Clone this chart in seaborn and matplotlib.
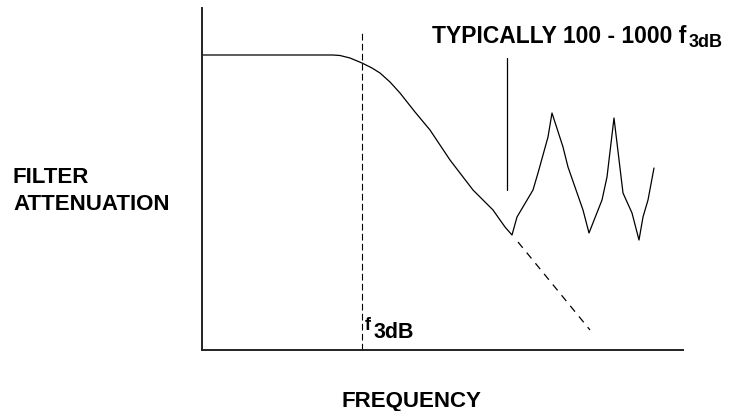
import pandas as pd
import matplotlib
matplotlib.use('Agg')
import matplotlib.pyplot as plt
import seaborn as sns

# response curve (arbitrary units)
freq = [0, 131, 138, 148, 160, 170, 178, 188, 198, 213, 228, 248, 271, 291,
        303, 310, 315, 331, 336, 346, 350, 361, 366, 381, 387, 400, 405, 412,
        421, 430, 437, 441, 446, 452]
atten = [295, 295, 294.5, 292, 287, 282, 277, 268, 257, 238, 220, 190, 160, 140,
         123, 115, 133, 160, 177, 213, 237, 203, 183, 140, 117, 150, 173, 232,
         157, 137, 110, 133, 150, 182]

# ideal roll-off continuation (dashed)
ideal_freq = [316, 388]
ideal_atten = [108, 20]

f3db = 160
f3db_top = 317
pointer_x = 305
pointer_y = [160, 292]

sns.set_style('white')
plt.rcParams['font.family'] = ['Liberation Sans', 'DejaVu Sans']

fig = plt.figure(figsize=(7.3, 4.11), dpi=100)
ax = fig.add_axes([202 / 730, 61 / 411, 481 / 730, 342 / 411])

df = pd.DataFrame({'freq': freq, 'atten': atten})
sns.lineplot(data=df, x='freq', y='atten', sort=False, color='black', lw=0.9, ax=ax)
sns.lineplot(x=ideal_freq, y=ideal_atten, color='black', lw=0.9, ax=ax,
             linestyle=(0, (6, 5)))
ax.plot([f3db, f3db], [0, f3db_top], color='black', lw=0.8, linestyle=(0, (6, 3)))
ax.plot([pointer_x, pointer_x], pointer_y, color='black', lw=0.9)

ax.set_xlim(0, 481)
ax.set_ylim(0, 342)
ax.set_xticks([])
ax.set_yticks([])
ax.set_xlabel('')
ax.set_ylabel('')
sns.despine(ax=ax)
for s in ['left', 'bottom']:
    ax.spines[s].set_color('#222222')
    ax.spines[s].set_linewidth(1.4)

bold = dict(fontweight='bold', color='black')
fig.text(13 / 730, 1 - 183 / 411, 'FILTER', fontsize=16, **bold)
fig.text(13 / 730, 1 - 210 / 411, 'ATTENUATION', fontsize=16, **bold)
fig.text(411 / 730, 1 - 407 / 411, 'FREQUENCY', fontsize=16, ha='center', **bold)

fig.text(432 / 730, 1 - 43 / 411, 'TYPICALLY 100 - 1000 f', fontsize=16.5, **bold)
fig.text(689 / 730, 1 - 47 / 411, '3dB', fontsize=13, **bold)

fig.text(365 / 730, 1 - 330 / 411, 'f', fontsize=13, **bold)
fig.text(374 / 730, 1 - 338 / 411, '3dB', fontsize=15.5, **bold)

fig.savefig('out.png', dpi=100)
